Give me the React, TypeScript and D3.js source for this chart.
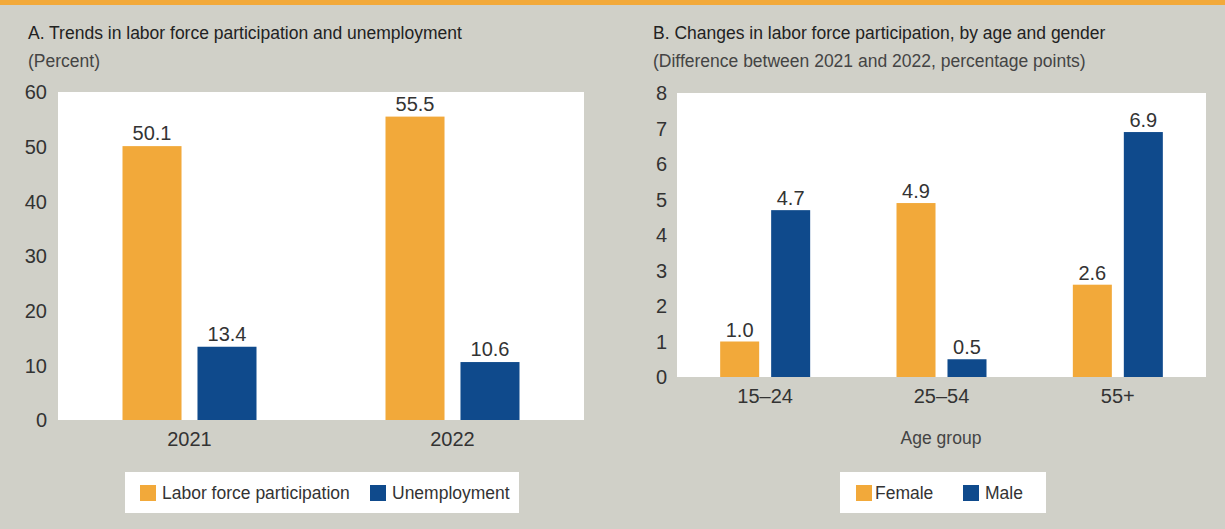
import React from "react";
import * as d3 from "d3";

// ---------- Data ----------
const yearsA = ["2021", "2022"];
const seriesA = ["Labor force participation", "Unemployment"];
const laborForce = [50.1, 55.5];
const unemployment = [13.4, 10.6];
const ticksA = [0, 10, 20, 30, 40, 50, 60];

const ageGroups = ["15–24", "25–54", "55+"];
const seriesB = ["Female", "Male"];
const female = [1.0, 4.9, 2.6];
const male = [4.7, 0.5, 6.9];
const ticksB = [0, 1, 2, 3, 4, 5, 6, 7, 8];

const titleA = "A. Trends in labor force participation and unemployment";
const subtitleA = "(Percent)";
const titleB = "B. Changes in labor force participation, by age and gender";
const subtitleB = "(Difference between 2021 and 2022, percentage points)";
const xTitleB = "Age group";

// ---------- Style ----------
const W = 1225;
const H = 529;
const BG = "#D0D0C8";
const ORANGE = "#F2A93A";
const BLUE = "#0F4A8C";
const TEXT = "#333333";
const SUB = "#444444";
const FONT = "'Liberation Sans', Arial, Helvetica, sans-serif";
const colors = [ORANGE, BLUE];
const fmt = d3.format(".1f");

type PanelProps = {
  plot: { x0: number; x1: number; y0: number; y1: number };
  categories: string[];
  seriesNames: string[];
  values: number[][]; // values[series][category]
  yMax: number;
  ticks: number[];
  tickX: number;
  groupWidth: number;
  barPadding: number;
  labelGap: number;
};

function Panel(p: PanelProps) {
  const { plot } = p;
  const y = d3.scaleLinear().domain([0, p.yMax]).range([plot.y0, plot.y1]);
  const x0 = d3.scaleBand().domain(p.categories).range([plot.x0, plot.x1]).padding(0);
  const x1 = d3
    .scaleBand()
    .domain(p.seriesNames)
    .range([-p.groupWidth / 2, p.groupWidth / 2])
    .paddingInner(p.barPadding)
    .paddingOuter(0);
  return (
    <g>
      <rect x={plot.x0} y={plot.y1} width={plot.x1 - plot.x0} height={plot.y0 - plot.y1} fill="#ffffff" />
      {p.ticks.map((t) => (
        <text
          key={t}
          x={p.tickX}
          y={y(t)}
          dy="0.36em"
          textAnchor="end"
          fontSize={20}
          fill={TEXT}
        >
          {t}
        </text>
      ))}
      {p.categories.map((c, ci) => {
        const cx = (x0(c) as number) + x0.bandwidth() / 2;
        return (
          <g key={c}>
            {p.seriesNames.map((s, si) => {
              const v = p.values[si][ci];
              const bx = cx + (x1(s) as number);
              return (
                <g key={s}>
                  <rect x={bx} y={y(v)} width={x1.bandwidth()} height={y(0) - y(v)} fill={colors[si]} />
                  <text
                    x={bx + x1.bandwidth() / 2}
                    y={y(v) - p.labelGap}
                    textAnchor="middle"
                    fontSize={20}
                    fill={TEXT}
                  >
                    {fmt(v)}
                  </text>
                </g>
              );
            })}
            <text x={cx} y={plot.y0 + 26} textAnchor="middle" fontSize={20} fill={TEXT}>
              {c}
            </text>
          </g>
        );
      })}
    </g>
  );
}

function Legend(props: { box: [number, number, number, number]; items: { name: string; sq: number; tx: number }[] }) {
  const [bx, by, bw, bh] = props.box;
  return (
    <g>
      <rect x={bx} y={by} width={bw} height={bh} fill="#ffffff" />
      {props.items.map((it, i) => (
        <g key={it.name}>
          <rect x={it.sq} y={by + 13} width={16} height={16} fill={colors[i]} />
          <text x={it.tx} y={by + 27} fontSize={17.5} fill={TEXT}>
            {it.name}
          </text>
        </g>
      ))}
    </g>
  );
}

export default function App() {
  return (
    <svg
      width={W}
      height={H}
      viewBox={`0 0 ${W} ${H}`}
      style={{ position: "absolute", left: 0, top: 0, display: "block" }}
      fontFamily={FONT}
    >
      <rect x={0} y={0} width={W} height={H} fill={BG} />
      <rect x={0} y={0} width={W} height={5} fill={ORANGE} />

      {/* Panel A */}
      <text x={28} y={38.5} fontSize={17.5} fill="#222">{titleA}</text>
      <text x={28} y={67} fontSize={17.5} fill={SUB}>{subtitleA}</text>
      <Panel
        plot={{ x0: 58, x1: 584, y0: 420, y1: 92 }}
        categories={yearsA}
        seriesNames={seriesA}
        values={[laborForce, unemployment]}
        yMax={60}
        ticks={ticksA}
        tickX={47}
        groupWidth={134}
        barPadding={0.213}
        labelGap={6}
      />
      <Legend
        box={[125, 472, 394, 41]}
        items={[
          { name: seriesA[0], sq: 140, tx: 162 },
          { name: seriesA[1], sq: 370, tx: 392 },
        ]}
      />

      {/* Panel B */}
      <text x={653} y={38.5} fontSize={17.5} fill="#222">{titleB}</text>
      <text x={653} y={67} fontSize={17.5} fill={SUB}>{subtitleB}</text>
      <Panel
        plot={{ x0: 677, x1: 1206, y0: 377, y1: 93 }}
        categories={ageGroups}
        seriesNames={seriesB}
        values={[female, male]}
        yMax={8}
        ticks={ticksB}
        tickX={667}
        groupWidth={90}
        barPadding={0.235}
        labelGap={5}
      />
      <text x={941} y={444} textAnchor="middle" fontSize={17.5} fill={SUB}>{xTitleB}</text>
      <Legend
        box={[840, 472, 206, 41]}
        items={[
          { name: seriesB[0], sq: 856, tx: 875 },
          { name: seriesB[1], sq: 963, tx: 985 },
        ]}
      />
    </svg>
  );
}
